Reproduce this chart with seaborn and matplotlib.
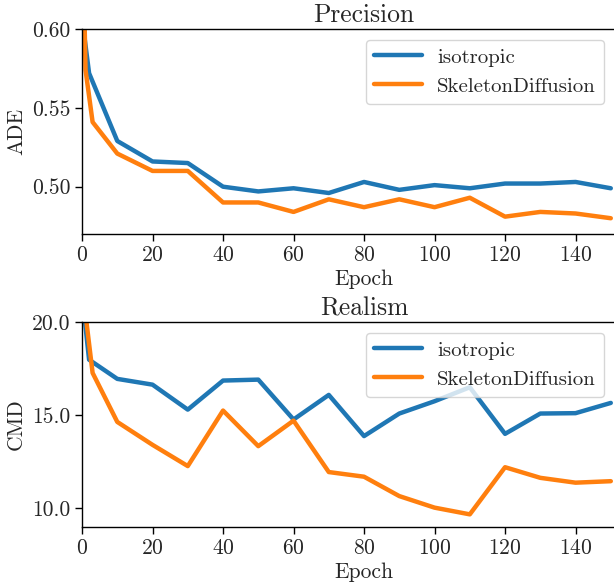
import pandas as pd
import matplotlib
matplotlib.use("Agg")
import matplotlib.pyplot as plt
import matplotlib.ticker as mticker
import seaborn as sns

# --- data ---
epochs_iso = [0, 2, 10, 20, 30, 40, 50, 60, 70, 80, 90, 100, 110, 120, 130, 140, 150]
epochs_skel = [0, 1, 3, 10, 20, 30, 40, 50, 60, 70, 80, 90, 100, 110, 120, 130, 140, 150]

ade_iso = [0.607, 0.572, 0.529, 0.516, 0.515, 0.500, 0.497, 0.499, 0.496,
           0.503, 0.498, 0.501, 0.499, 0.502, 0.502, 0.503, 0.499]
ade_skel = [0.683, 0.574, 0.541, 0.521, 0.510, 0.510, 0.490, 0.490, 0.484,
            0.492, 0.487, 0.492, 0.487, 0.493, 0.481, 0.484, 0.483, 0.480]

cmd_iso = [21.5, 17.98, 16.95, 16.64, 15.30, 16.86, 16.91, 14.77, 16.09,
           13.88, 15.09, 15.75, 16.50, 14.00, 15.09, 15.11, 15.66]
cmd_skel = [35.0, 20.4, 17.27, 14.64, 13.41, 12.27, 15.25, 13.34, 14.71,
            11.95, 11.70, 10.66, 10.04, 9.68, 12.21, 11.64, 11.38, 11.46]

models = ["isotropic", "SkeletonDiffusion"]
colors = {"isotropic": "#1f77b4", "SkeletonDiffusion": "#ff7f0e"}
xticks = [0, 20, 40, 60, 80, 100, 120, 140]


def long_df(iso, skel):
    a = pd.DataFrame({"Epoch": epochs_iso, "value": iso, "model": models[0]})
    b = pd.DataFrame({"Epoch": epochs_skel, "value": skel, "model": models[1]})
    return pd.concat([a, b], ignore_index=True)


sns.set_style("white")
plt.rcParams["font.family"] = "serif"
plt.rcParams["font.serif"] = ["cmr10", "DejaVu Serif"]
plt.rcParams["mathtext.fontset"] = "cm"
plt.rcParams["axes.unicode_minus"] = False
plt.rcParams["axes.formatter.use_mathtext"] = True

fig = plt.figure(figsize=(6.14, 5.85), dpi=100)
# axes run past the right edge, like the cropped original
ax1 = fig.add_axes([0.1336, 0.600, 0.9186, 0.3504])
ax2 = fig.add_axes([0.1336, 0.0991, 0.9186, 0.3504])

panels = [
    (ax1, ade_iso, ade_skel, "Precision", "ADE", (0.47, 0.60), 0.05, "%.2f"),
    (ax2, cmd_iso, cmd_skel, "Realism", "CMD", (9.0, 20.0), 5.0, "%.1f"),
]

for ax, iso, skel, title, ylab, ylim, step, fmt in panels:
    df = long_df(iso, skel)
    sns.lineplot(data=df, x="Epoch", y="value", hue="model", hue_order=models,
                 palette=colors, linewidth=3.2, ax=ax)
    ax.set_xlim(0, 160)
    ax.set_ylim(*ylim)
    ax.xaxis.set_major_locator(mticker.FixedLocator(xticks))
    ax.yaxis.set_major_locator(mticker.MultipleLocator(step))
    ax.yaxis.set_major_formatter(mticker.FormatStrFormatter(fmt))
    ax.tick_params(axis="both", labelsize=15.5, direction="out", length=5,
                   width=1, left=True, bottom=True, color="black")
    ax.set_title(title, fontsize=18.4, pad=5)
    ax.set_xlabel("Epoch", fontsize=15.5, labelpad=3)
    ax.set_ylabel(ylab, fontsize=15.5)
    for s in ax.spines.values():
        s.set_color("black")
        s.set_linewidth(1.0)
    handles, labels = ax.get_legend_handles_labels()
    ax.legend(handles, labels, loc="upper left", bbox_to_anchor=(0.5035, 0.948),
              borderaxespad=0, fontsize=15, handlelength=2.3, handletextpad=0.72,
              frameon=True, edgecolor="0.8", framealpha=0.8, fancybox=True)

fig.savefig("out.png", dpi=100)
